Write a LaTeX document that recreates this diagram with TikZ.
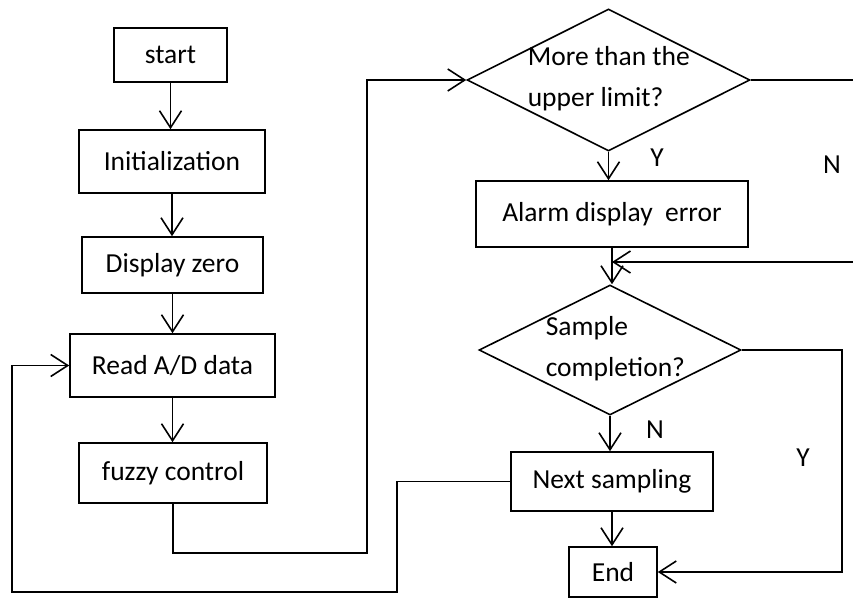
\documentclass[tikz,border=0pt]{standalone}
\usepackage{fontspec}
\setmainfont{Carlito}
\usepackage{tikz}
\usetikzlibrary{arrows.meta,shapes,positioning,calc}

\begin{document}
\begin{tikzpicture}[x=1pt,y=-1pt,line width=1.6pt,
		>={Straight Barb[length=17pt,width=22pt]},
		every node/.style={inner sep=0pt, font=\fontsize{27.5}{41}\selectfont},
		box/.style={draw},
		decision/.style={draw, diamond}]
				\useasboundingbox (0,0) rectangle (853,599);
				
				\node [box, minimum width=113pt, minimum height=54pt] (start) at (170.5,55) {start};
				\node [box, minimum width=186pt, minimum height=63pt] (init) at (172,161.5) {Initialization};
				\node [box, minimum width=181pt, minimum height=56pt] (zero) at (172.5,265) {Display zero};
				\node [box, minimum width=205pt, minimum height=63pt] (read) at (172.5,365.5) {Read A/D data};
				\node [box, minimum width=188pt, minimum height=60pt] (fuzzy) at (173,473) {fuzzy control};
				
				\node [decision, minimum width=283pt, minimum height=142pt] (upper) at (608.5,80) {};
				\node [align=left, anchor=west] (uppertext) at (527,79) {More than the\\upper limit?};
				\node [box, minimum width=272pt, minimum height=66pt] (alarm) at (612,214) {Alarm display~ error};
				\node [decision, minimum width=262pt, minimum height=130pt] (sample) at (610,350) {};
				\node [align=left, anchor=west] (sampletext) at (545,349) {Sample\\completion?};
				\node [box, minimum width=202pt, minimum height=59pt] (next) at (612,481.5) {Next sampling};
				\node [box, minimum width=88pt, minimum height=50pt] (end) at (613,572) {End};
				
				% % % % % % % % % % % % % % % % % % % % % % % % % %
				
				\draw [->] (start.south) -- (start.south |- init.north);
				\draw [->] (init.south) -- (init.south |- zero.north);
				\draw [->] (zero.south) -- (zero.south |- read.north);
				\draw [->] (read.south) -- (read.south |- fuzzy.north);
				
				\coordinate (up) at (367,553);
				\draw [->] (fuzzy.south) |- (up) |- (upper.west);
				
				\draw [->] (upper.south) -- (upper.south |- alarm.north);
				\draw [->] (alarm.south) -- (alarm.south |- sample.north);
				
				\coordinate (noout) at (853,80);
				\coordinate (noin) at (853,262);
				\draw (upper.east) -- (noout);
				\draw [->] (noin) -- (noin -| alarm.south);
				
				\draw [->] (sample.south) -- (sample.south |- next.north);
				\coordinate (yes) at (842,350);
				\draw [->] (sample.east) -- (yes) |- (end.east);
				\draw [->] (next.south) -- (next.south |- end.north);
				
				\coordinate (back1) at (397,592);
				\coordinate (back2) at (12,592);
				\draw [->] (next.west) -| (back1) -- (back2) |- (read.west);
				
				\node (y1) at (657,158) {Y};
				\node (n1) at (832,165) {N};
				\node (n2) at (655,430) {N};
				\node (y2) at (803,458) {Y};
\end{tikzpicture}
\end{document}
